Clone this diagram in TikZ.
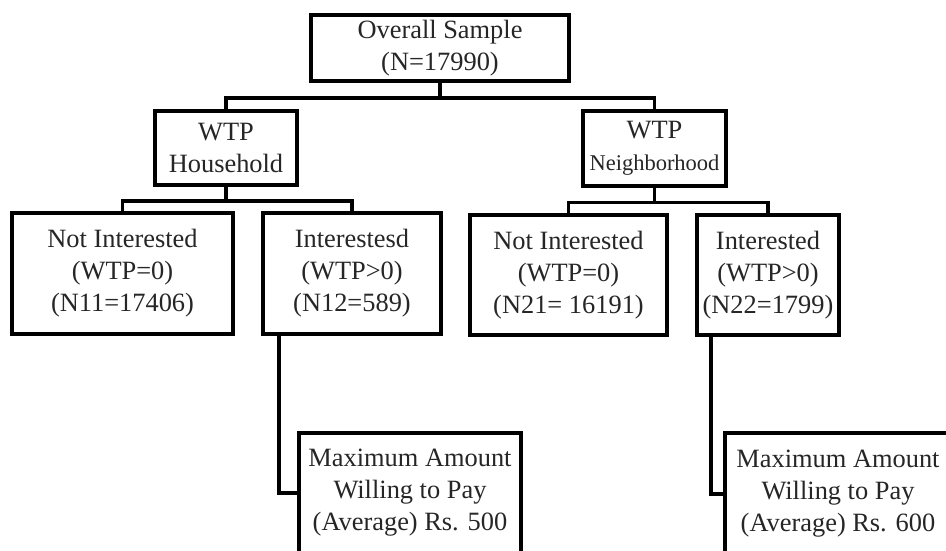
\documentclass[tikz,border=0pt]{standalone}
\usepackage{fontspec}
\setmainfont{Liberation Serif}
\begin{document}
\begin{tikzpicture}[x=1pt,y=-1pt,
  box/.style={draw=black,line width=3.8pt,rectangle,inner sep=0pt,align=center,
    font=\fontsize{26.4}{32}\selectfont,text=black!85},
  link/.style={draw=black,line width=3.8pt,line join=miter}]
\useasboundingbox[fill=white] (0,0) rectangle (946,550);
\node[box,minimum width=258,minimum height=66] (top) at (440,48) {Overall Sample\\(N=17990)};
\node[box,minimum width=142,minimum height=74] (hh) at (226,148) {WTP\\Household};
\node[box,minimum width=143,minimum height=75] (nb) at (654.5,148.5) {WTP\\{\fontsize{22.5}{32}\selectfont Neighborhood}};
\node[box,minimum width=221,minimum height=121] (n11) at (122.5,273.5) {Not Interested\\(WTP=0)\\(N11=17406)};
\node[box,minimum width=178,minimum height=121] (n12) at (352,273.5) {Interestesd\\(WTP>0)\\(N12=589)};
\node[box,minimum width=197,minimum height=120] (n21) at (568.5,275) {Not Interested\\(WTP=0)\\(N21= 16191)};
\node[box,minimum width=142,minimum height=120] (n22) at (768,275) {Interested\\(WTP>0)\\(N22=1799)};
\node[box,minimum width=222,minimum height=120] (m1) at (410,493) {Maximum Amount\\Willing to Pay\\(Average) Rs. 500};
\node[box,minimum width=226,minimum height=122] (m2) at (838,494) {Maximum Amount\\Willing to Pay\\(Average) Rs. 600};
\coordinate (e1) at ([xshift=18]n12.south west);
\coordinate (e2) at ([xshift=16]n22.south west);
\draw[link] (top.south) -- ++(0,15) -| (hh.north);
\draw[link] (top.south) -- ++(0,15) -| (nb.north);
\draw[link] (hh.south) -- ++(0,14) -| (n11.north);
\draw[link] (hh.south) -- ++(0,14) -| (n12.north);
\draw[link] (nb.south) -- ++(0,14.5) -| (n21.north);
\draw[link] (nb.south) -- ++(0,14.5) -| (n22.north);
\draw[link] (e1) |- (m1.west);
\draw[link] (e2) |- (m2.west);
\end{tikzpicture}
\end{document}
